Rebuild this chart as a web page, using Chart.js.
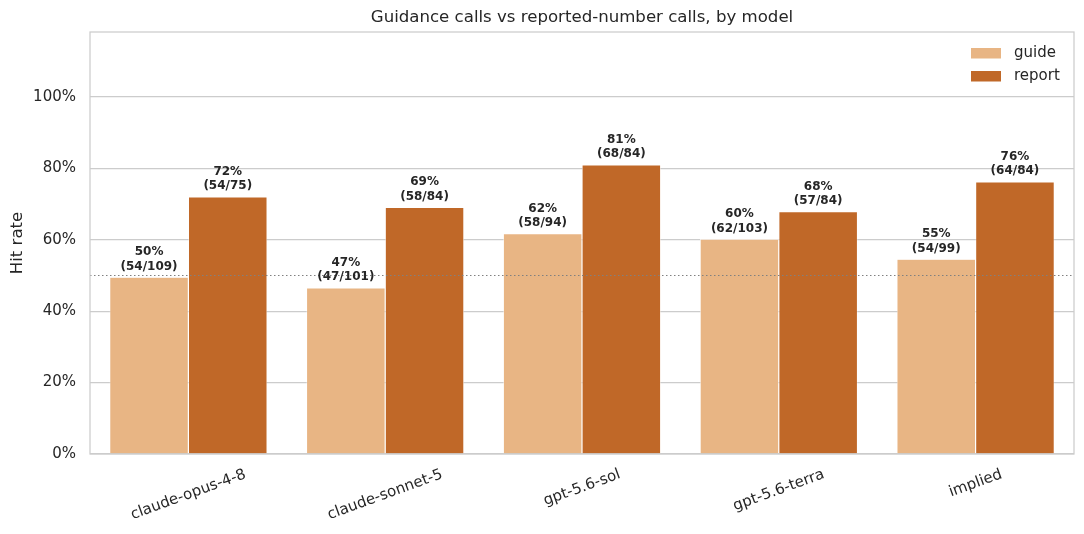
<!DOCTYPE html>
<html><head><meta charset="utf-8">
<script src="https://cdn.jsdelivr.net/npm/chart.js@4"></script>
<style>html,body{margin:0;padding:0;background:#fff;}canvas{display:block;}</style>
</head><body>
<canvas id="c" width="1084" height="534"></canvas>
<script>
const categories = ["claude-opus-4-8", "claude-sonnet-5", "gpt-5.6-sol", "gpt-5.6-terra", "implied"];
const guideHits = [54, 47, 58, 62, 54];
const guideTotals = [109, 101, 94, 103, 99];
const reportHits = [54, 58, 68, 57, 64];
const reportTotals = [75, 84, 84, 84, 84];
const yTicks = [0, 0.2, 0.4, 0.6, 0.8, 1.0];
const seriesNames = ["guide", "report"];
const colors = ["#e8b584", "#c06828"];
const referenceLine = 0.5;
const titleText = "Guidance calls vs reported-number calls, by model";
const yLabel = "Hit rate";

const guideRates = guideHits.map((h, i) => h / guideTotals[i]);
const reportRates = reportHits.map((h, i) => h / reportTotals[i]);
const FONT = "'DejaVu Sans', sans-serif";
const TXT = "#262626";

const overlay = {
  id: 'overlay',
  afterDatasetsDraw(chart) {
    const ctx = chart.ctx;
    const a = chart.chartArea;
    const y = chart.scales.y, x = chart.scales.x;
    ctx.save();
    // reference line
    ctx.strokeStyle = '#808080';
    ctx.lineWidth = 1.1;
    ctx.setLineDash([1.5, 2.5]);
    const ry = Math.round(y.getPixelForValue(referenceLine)) + 0.5;
    ctx.beginPath(); ctx.moveTo(a.left, ry); ctx.lineTo(a.right, ry); ctx.stroke();
    ctx.setLineDash([]);
    // bar labels
    ctx.fillStyle = TXT;
    ctx.font = "bold 12px " + FONT;
    ctx.textAlign = 'center';
    ctx.textBaseline = 'alphabetic';
    const sets = [[guideHits, guideTotals], [reportHits, reportTotals]];
    chart.data.datasets.forEach((ds, di) => {
      const meta = chart.getDatasetMeta(di);
      meta.data.forEach((bar, i) => {
        const h = sets[di][0][i], n = sets[di][1][i];
        const pct = Math.round(100 * h / n) + "%";
        const b2 = bar.y - 7.5;
        ctx.fillText("(" + h + "/" + n + ")", bar.x, b2);
        ctx.fillText(pct, bar.x, b2 - 14.5);
      });
    });
    // frame
    ctx.strokeStyle = '#cccccc';
    ctx.lineWidth = 1.25;
    ctx.strokeRect(a.left, a.top, a.right - a.left, a.bottom - a.top);
    // x labels rotated, centered
    ctx.font = "15px " + FONT;
    ctx.textAlign = 'center';
    ctx.textBaseline = 'middle';
    const rot = 20 * Math.PI / 180;
    categories.forEach((c, i) => {
      const px = x.getPixelForValue(i);
      const w = ctx.measureText(c).width;
      const bh = w * Math.sin(rot) + 17 * Math.cos(rot);
      const cy = a.bottom + 12 + bh / 2;
      ctx.save();
      ctx.translate(px, cy);
      ctx.rotate(-rot);
      ctx.fillText(c, 0, 0);
      ctx.restore();
    });
    // title
    ctx.font = "16.6px " + FONT;
    ctx.textBaseline = 'middle';
    ctx.fillText(titleText, (a.left + a.right) / 2, 18);
    // y label
    ctx.save();
    ctx.translate(18, (a.top + a.bottom) / 2);
    ctx.rotate(-Math.PI / 2);
    ctx.fillText(yLabel, 0, 0);
    ctx.restore();
    // legend
    ctx.font = "15px " + FONT;
    ctx.textAlign = 'left';
    seriesNames.forEach((s, i) => {
      const ly = 48 + i * 23;
      ctx.fillStyle = colors[i];
      ctx.fillRect(971, ly, 30, 10.5);
      ctx.fillStyle = TXT;
      ctx.fillText(s, 1014, ly + 5.5);
    });
    ctx.restore();
  }
};

new Chart(document.getElementById('c'), {
  type: 'bar',
  data: {
    labels: categories,
    datasets: [
      { label: seriesNames[0], data: guideRates, backgroundColor: colors[0], borderColor: '#ffffff', borderWidth: 0.6, borderSkipped: 'bottom' },
      { label: seriesNames[1], data: reportRates, backgroundColor: colors[1], borderColor: '#ffffff', borderWidth: 0.6, borderSkipped: 'bottom' }
    ]
  },
  options: {
    responsive: false,
    animation: false,
    devicePixelRatio: 1,
    layout: { padding: { top: 32, right: 10, left: 0, bottom: 0 } },
    plugins: { legend: { display: false }, title: { display: false }, tooltip: { enabled: false } },
    datasets: { bar: { categoryPercentage: 0.8, barPercentage: 1.0 } },
    scales: {
      x: {
        grid: { display: false, drawTicks: false },
        border: { display: false },
        ticks: { display: false },
        afterFit(s) { s.height = 80; }
      },
      y: {
        min: 0, max: 1.182,
        grid: { color: '#cccccc', lineWidth: 1.25, drawTicks: false },
        border: { display: false },
        afterBuildTicks(s) { s.ticks = yTicks.map(v => ({ value: v })); },
        ticks: {
          padding: 14,
          color: TXT,
          font: { family: FONT, size: 15 },
          callback: v => Math.round(v * 100) + "%"
        },
        afterFit(s) { s.width = 90; }
      }
    }
  },
  plugins: [overlay]
});
</script>
</body></html>
